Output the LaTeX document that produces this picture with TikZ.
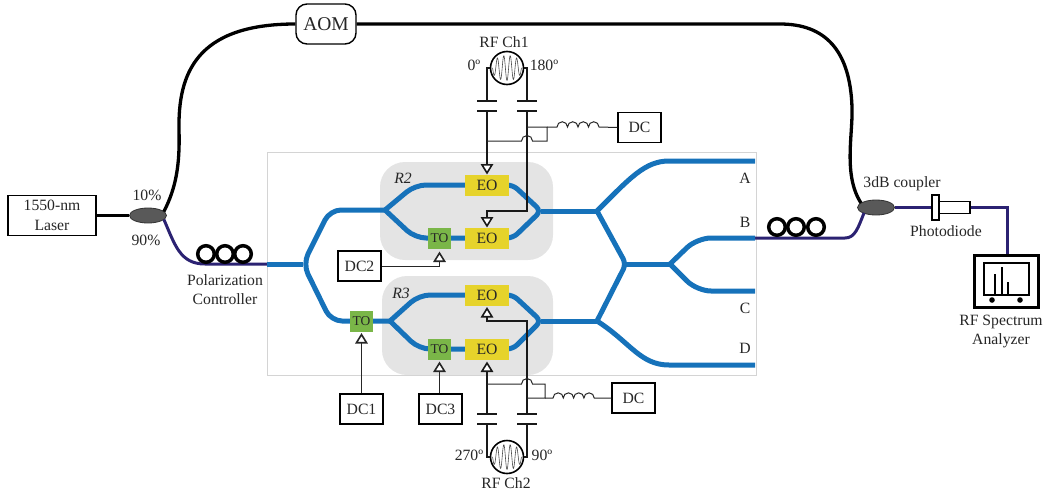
\documentclass[tikz,border=0pt]{standalone}
\usepackage{fontspec}
\setmainfont{Liberation Serif}
\usetikzlibrary{arrows.meta,shapes.geometric}
\definecolor{wg}{HTML}{1672BA}
\definecolor{pf}{HTML}{2B2272}
\definecolor{eoc}{HTML}{E6D32B}
\definecolor{toc}{HTML}{7AB648}
\definecolor{rbox}{HTML}{E4E4E4}
\definecolor{cplc}{HTML}{595959}
\tikzset{
  x=1pt,y=-1pt,
  every node/.style={font=\fontsize{15.7}{19}\selectfont,text=black!85,inner sep=0pt},
  box/.style={draw=black,line width=1.4pt,fill=white,align=center},
  dcbox/.style={box,minimum width=43pt,minimum height=30pt},
  eo/.style={fill=eoc,minimum width=44pt,minimum height=21pt},
  to/.style={fill=toc,minimum width=23.5pt,minimum height=21pt,font=\fontsize{13.5}{15}\selectfont},
  guide/.style={line width=1.6pt,line join=miter,draw=black!90},
  thinw/.style={line width=1pt,draw=black!85},
  guidetip/.style={-{Triangle[open,fill=white,length=10.5pt,width=12.5pt,line width=1.6pt]}},
  wave/.style={line width=5pt,draw=wg,line join=round,rounded corners=11pt},
  pfib/.style={line width=3pt,draw=pf},
  bfib/.style={line width=3.3pt,draw=black},
  coil/.style={line width=3.5pt,draw=black,fill=none},
  cpl/.style={ellipse,draw=black!80,line width=.8pt,fill=cplc,minimum width=37pt,minimum height=15pt},
  rfsrc/.style={circle,draw=black,line width=1.6pt,minimum size=33pt},
  sine/.style={black!70,line width=.6pt,domain=-14.5:14.5,samples=90,smooth},
}
\begin{document}
\begin{tikzpicture}
\useasboundingbox (0,0) rectangle (1044,493);
% junctions
\coordinate (inp) at (267,264);
\coordinate (s0) at (303,264);
\coordinate (s1) at (385,210);
\coordinate (s2) at (390,321);
\coordinate (m1) at (541,211);
\coordinate (m2) at (541,321);
\coordinate (s3) at (597,211);
\coordinate (s4) at (597,321);
\coordinate (s5) at (626,264);
\coordinate (s6) at (670,264);
\coordinate (outA) at (755,161);
\coordinate (outB) at (755,238);
\coordinate (outC) at (755,291);
\coordinate (outD) at (755,365);
% chip frame
\fill[rbox,rounded corners=25pt] (380,162) rectangle (553,260);
\fill[rbox,rounded corners=25pt] (382,276) rectangle (553,375);
\draw[black!17,line width=1pt] (267,152) rectangle (756,375);
% nodes
\node[box,minimum width=88pt,minimum height=40pt] (laser) at (52,215.5) {1550-nm\\[1pt]Laser};
\node[cpl] (c1) at (148,215.5) {};
\node[cpl] (c2) at (876,207.5) {};
\node[box,rounded corners=11pt,minimum width=60pt,minimum height=40pt,font=\fontsize{19.5}{21}\selectfont] (aom) at (326,24) {AOM};
% fibres
\draw[bfib] (laser.east) -- (c1.west);
\draw[bfib] (c1.east) ++(-3,-4) .. controls (176,188) and (180,165) .. (179,130) .. controls (178,75) and (195,24) .. (aom.west);
\draw[bfib] (aom.east) -- (780,24) .. controls (825,24) and (850,50) .. (852,107) .. controls (853,135) and (843,175) .. (861,203);
\draw[pfib] (c1.east) ++(-3,4) .. controls (175,245) and (180,264) .. (205,264) -- (inp);
\draw[pfib] (outB) -- (845,238) .. controls (855,238) and (858,228) .. (864,213);
\draw[pfib] (c2.east) -- (1007,207.5) -- (1007,256);
% waveguides
\draw[wave] (inp) -- (s0);
\draw[wave] (s1) -- (330,210) -- (s0) -- (331,321) -- (s2);
\draw[wave] (s1) -- (415,185) -- (470,185);
\draw[wave] (s1) -- (415,238) -- (470,238);
\draw[wave] (s2) -- (419,295) -- (470,295);
\draw[wave] (s2) -- (419,349) -- (470,349);
\draw[wave,rounded corners=6pt] (500,185) -- (513,185) -- (m1) -- (513,238) -- (500,238);
\draw[wave,rounded corners=6pt] (500,295) -- (513,295) -- (m2) -- (513,349) -- (500,349);
\draw[wave] (m1) -- (s3);
\draw[wave] (m2) -- (s4);
\draw[wave] (s3) .. controls (630,178) and (645,161) .. (680,161) -- (outA);
\draw[wave,rounded corners=6pt] (s3) -- (s5) -- (s4);
\draw[wave] (s4) .. controls (630,342) and (640,365) .. (680,365) -- (outD);
\draw[wave] (s5) -- (s6);
\draw[wave,rounded corners=14pt] (s6) -- (697,238) -- (outB);
\draw[wave,rounded corners=14pt] (s6) -- (697,291) -- (outC);
% coils
\foreach \x in {206,225,243}{\draw[coil] (\x,254) circle (8.3pt);}
\foreach \x in {777,796,816}{\draw[coil] (\x,227) circle (8.3pt);}
% modulators
\node[eo] (eo1) at (487,185.5) {EO};
\node[eo] (eo2) at (487,238.5) {EO};
\node[eo] (eo3) at (487,295.5) {EO};
\node[eo] (eo4) at (487,349) {EO};
\node[to] (to2) at (439.5,238.5) {TO};
\node[to] (to3) at (439.5,349) {TO};
\node[to] (to1) at (361.5,321.5) {TO};
\node[dcbox] (dc2) at (359.5,266) {DC2};
\node[dcbox] (dc1) at (361.5,409) {DC1};
\node[dcbox] (dc3) at (440.5,409) {DC3};
\node[dcbox] (dct) at (639.5,127.5) {DC};
\node[dcbox] (dcb) at (633.5,398) {DC};
\coordinate (t2) at (439.5,251.5);
\coordinate (t3) at (439.5,361.5);
\coordinate (t1) at (361.5,333);
\draw[thinw,guidetip] (dc2.east) -| (t2);
\draw[thinw,guidetip] (dc1.north) -- (t1);
\draw[thinw,guidetip] (dc3.north -| t3) -- (t3);
% RF sources
\node[rfsrc] (rf1) at (507,68) {};
\node[rfsrc] (rf2) at (507,457) {};
\draw[sine] plot (507+\x,{68+12.5*cos(\x*56)*(1-(\x/16)^2)^.5});
\draw[sine] plot (507+\x,{457+12.5*cos(\x*56)*(1-(\x/16)^2)^.5});
% RF line top
\coordinate (a1) at (487,111);
\coordinate (a2) at (527,111);
\draw[guide] (rf1.west) -- (487,68) -- (487,101);
\draw[guide] (rf1.east) -- (527,68) -- (527,101);
\draw[guide] (477,101) -- (497,101) (477,111) -- (497,111);
\draw[guide] (517,101) -- (537,101) (517,111) -- (537,111);
\draw[guide,guidetip] (a1) -- (487,174.5);
\draw[guide,guidetip] (a2) -- (527,211) -- (487,211) -- (487,227.5);
\draw[thinw] (527,127) -- (547,127) -- (547,141) -- (532.5,141) arc (0:180:5.5pt) -- (487,141);
\draw[thinw] (547,127) -- (557,127) arc (180:0:5.25pt) arc (180:0:5.25pt) arc (180:0:5.25pt) arc (180:0:5.25pt) -- (dct.west);
% RF line bottom
\coordinate (b1) at (487,414);
\coordinate (b2) at (527,414);
\draw[guide] (rf2.west) -- (487,457) -- (487,424);
\draw[guide] (rf2.east) -- (527,457) -- (527,424);
\draw[guide] (477,414) -- (497,414) (477,424) -- (497,424);
\draw[guide] (517,414) -- (537,414) (517,424) -- (537,424);
\draw[guide,guidetip] (b1) -- (487,361.5);
\draw[guide,guidetip] (b2) -- (527,321) -- (487,321) -- (487,307);
\draw[thinw] (527,398) -- (545,398) -- (545,384) -- (532.5,384) arc (0:180:5.5pt) -- (487,384);
\draw[thinw] (545,398) -- (553,398) arc (180:0:5.15pt) arc (180:0:5.15pt) arc (180:0:5.15pt) arc (180:0:5.15pt) -- (dcb.west);
% photodiode
\node[draw=black,line width=1.2pt,fill=white,minimum width=31pt,minimum height=12pt] (pd2) at (954.5,207.5) {};
\node[draw=black,line width=1.2pt,fill=white,minimum width=7pt,minimum height=25pt] (pd1) at (935.5,207.5) {};
% analyzer
\node[draw=black,line width=3pt,fill=white,minimum width=64pt,minimum height=52pt] (sa) at (1006.5,281.5) {};
\draw[black,line width=1.4pt] (984,263) rectangle (1029,295);
\draw[black,line width=1.3pt] (995,295) -- (995,274) (1002,295) -- (1002,267) (1008,295) -- (1008,282);
\fill (992,300) circle (2.8pt) (1020,300) circle (2.8pt);
% labels
\node (l10) at (147,195) {10\%};
\node (l90) at (146,240) {90\%};
\node[align=center] (pc) at (225,290) {Polarization\\Controller};
\node (r2) at (403,178) {\itshape R2};
\node (r3) at (401,293) {\itshape R3};
\node (rfa) at (504,42) {RF Ch1};
\node (p0) at (474,65) {0º};
\node (p180) at (544,65) {180º};
\node (p270) at (469,455) {270º};
\node (p90) at (542,455) {90º};
\node (rfb) at (506,483) {RF Ch2};
\node (la) at (745,178) {A};
\node (lb) at (745,222) {B};
\node (lc) at (745,308) {C};
\node (ld) at (745,348) {D};
\node (cp) at (902,184) {3dB coupler};
\node (ph) at (946,231) {Photodiode};
\node[align=center] (an) at (1001,331.5) {RF Spectrum\\Analyzer};
\end{tikzpicture}
\end{document}
